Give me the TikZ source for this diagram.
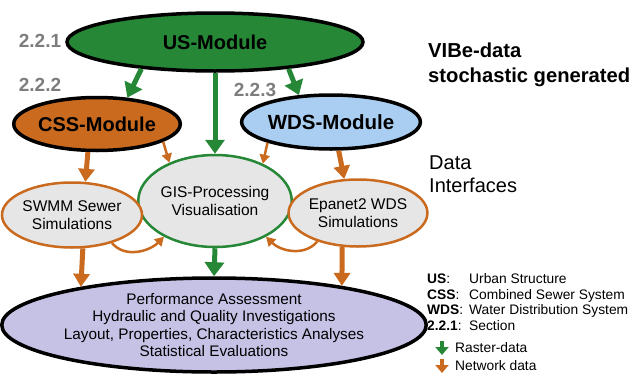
\documentclass[tikz,border=0pt]{standalone}
\usepackage{fontspec}
\setmainfont{Liberation Sans}
\usetikzlibrary{arrows.meta,shapes.geometric}

\definecolor{rastergreen}{RGB}{38,136,54}
\definecolor{netorange}{RGB}{201,106,31}
\definecolor{wdsblue}{RGB}{170,206,242}
\definecolor{ifacegray}{RGB}{230,230,230}
\definecolor{perflilac}{RGB}{198,194,230}
\definecolor{secgray}{RGB}{125,125,125}

\begin{document}
\begin{tikzpicture}[x=1pt,y=-1pt,
    module/.style={ellipse,draw=black,line width=3.5pt,inner sep=0pt,
                   font=\bfseries\fontsize{20.5}{24}\selectfont},
    iface/.style={ellipse,fill=ifacegray,line width=2.5pt,inner sep=0pt,
                  align=center,font=\fontsize{15.5}{18}\selectfont},
    raster/.style={draw=rastergreen,line width=5pt,
                   -{Triangle[width=19pt,length=14pt]}},
    network/.style={draw=netorange,line width=5pt,
                    -{Triangle[width=16pt,length=13pt]}},
    netthin/.style={draw=netorange,line width=2.5pt,
                    -{Triangle[width=10pt,length=9pt]}},
    secnum/.style={text=secgray,font=\bfseries\fontsize{19}{22}\selectfont},
    legtext/.style={inner sep=0pt,anchor=base west,font=\fontsize{13.8}{16}\selectfont}]

  \useasboundingbox (0,0) rectangle (636,375);

  % --- modules ----------------------------------------------------
  \node[module,fill=rastergreen,minimum width=296pt,minimum height=58pt,
        font=\bfseries\fontsize{20}{24}\selectfont] (us) at (215,42) {US-Module};
  \node[module,fill=netorange,minimum width=166pt,minimum height=53pt,
        font=\bfseries\fontsize{20}{24}\selectfont] (css) at (97,124) {CSS-Module};
  \node[module,fill=wdsblue,minimum width=162pt,minimum height=54pt] (wds) at (331,122) {WDS-Module};

  % section numbers
  \node[secnum] (s1) at (40,41) {2.2.1};
  \node[secnum] (s2) at (40,85) {2.2.2};
  \node[secnum] (s3) at (255,90) {2.2.3};

  % --- data interfaces --------------------------------------------
  \node[iface,draw=rastergreen,minimum width=146pt,minimum height=92pt] (gis) at (215,201) {GIS-Processing\\Visualisation};
  \node[iface,draw=netorange,minimum width=125pt,minimum height=65pt] (swmm) at (72,215) {SWMM Sewer\\Simulations};
  \node[iface,draw=netorange,minimum width=121pt,minimum height=67pt] (epa) at (358,213) {Epanet2 WDS\\Simulations};

  % --- evaluation -------------------------------------------------
  \node[ellipse,draw=black,fill=perflilac,line width=3.5pt,inner sep=0pt,
        minimum width=397pt,minimum height=94pt,align=center,
        font=\fontsize{15.3}{17.5}\selectfont] (perf) at (214,325)
        {Performance Assessment\\Hydraulic and Quality Investigations\\
         Layout, Properties, Characteristics Analyses\\Statistical Evaluations};

  % --- raster-data arrows -----------------------------------------
  \draw[raster] (us.200) -- (css.41);
  \draw[raster] (us.340) -- (wds.140);
  \draw[raster] (us.south) -- (gis.north);
  \draw[raster] (gis.south) -- (perf.north);

  % --- network-data arrows ----------------------------------------
  \draw[network] (css.252) -- (swmm.68);
  \draw[network] (wds.285) -- (epa.112);
  \draw[network] (swmm.288) -- (perf.164);
  \draw[network] (epa.245) -- (perf.17.5);
  \draw[netthin] (css.345) -- (gis.140);
  \draw[netthin] (wds.198) -- (gis.38);
  \draw[netthin] (swmm.-35) to[out=-50,in=225] (gis.215);
  \draw[netthin] (epa.215) to[out=230,in=-45] (gis.-35);

  % --- side captions ----------------------------------------------
  \node[inner sep=0pt,anchor=base west,align=left,
        font=\bfseries\fontsize{20.2}{25}\selectfont] (vibe) at (428,82)
        {VIBe-data\\stochastic generated};
  \node[inner sep=0pt,anchor=base west,align=left,
        font=\fontsize{20}{23}\selectfont] (iftitle) at (429,192)
        {Data\\Interfaces};

  % --- legend -----------------------------------------------------
  \foreach \key/\txt [count=\i] in {US/Urban Structure,CSS/Combined Sewer System,
                                   WDS/Water Distribution System,2.2.1/Section}
  {
    \node[legtext] (key\i) at (427,268+15.5*\i) {\textbf{\key}:};
    \node[legtext] (desc\i) at (469,268+15.5*\i) {\txt};
  }

  \coordinate (rs) at (442,341);
  \coordinate (re) at (442,355);
  \draw[draw=rastergreen,line width=4pt,-{Triangle[width=13pt,length=8pt]}] (rs) -- (re);
  \node[legtext] (rastleg) at (455,352) {Raster-data};

  \coordinate (ns) at (442,359);
  \coordinate (ne) at (442,373);
  \draw[draw=netorange,line width=4pt,-{Triangle[width=13pt,length=8pt]}] (ns) -- (ne);
  \node[legtext] (netleg) at (455,370) {Network data};

\end{tikzpicture}
\end{document}
